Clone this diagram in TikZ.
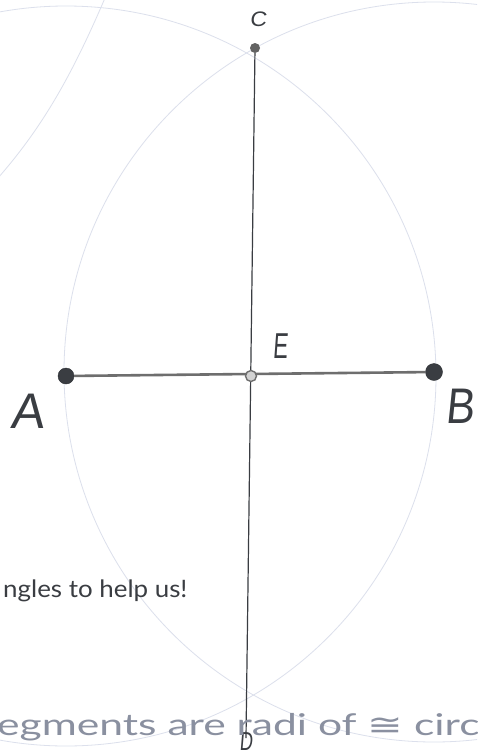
\documentclass[tikz,border=0pt]{standalone}
\usepackage{fontspec}
\setmainfont{Lato}
\newfontfamily\symf{DejaVu Sans}
\newfontfamily\labf{Liberation Sans}[FakeSlant=0.12]
\definecolor{arcc}{HTML}{DCE0EC}
\definecolor{inkc}{HTML}{3A3D42}
\definecolor{segc}{HTML}{6E6E6E}
\definecolor{notec}{HTML}{8A90A0}
\tikzset{
  x=1pt, y=-1pt,
  arcline/.style={draw=arcc, line width=0.8pt},
  dotpt/.style={circle, fill=inkc, draw=inkc!80!black, minimum size=16pt, inner sep=0pt},
  epoint/.style={circle, draw=segc, fill=gray!35, line width=1.4pt, minimum size=11pt, inner sep=0pt},
  cpoint/.style={circle, fill=segc!90!black, minimum size=10pt, inner sep=0pt},
  lab/.style={font=\labf, text=inkc, inner sep=0pt},
}
\begin{document}
\begin{tikzpicture}
\useasboundingbox (0,0) rectangle (477,753);
\clip (0,0) rectangle (477,753);
\fill[white] (0,0) rectangle (477,753);
% faint construction circles
\draw[arcline] (66,376) circle[radius=370];
\draw[arcline] (434,372) circle[radius=370];
\draw[arcline] (105,-2) .. controls (70,80) and (40,130) .. (-2,178);
% points
\coordinate (Dbot) at (246,738);
\node[dotpt] (A) at (66,376) {};
\node[dotpt, minimum size=17pt] (B) at (434,372) {};
\node[cpoint] (C) at (255,48) {};
\draw[inkc, line width=1.2pt] (C) -- (Dbot);
\draw[segc, line width=2.6pt] (A) -- (B);
\node[epoint] (E) at (251,376) {};
% labels
\node[lab, font=\labf\fontsize{21}{21}\selectfont] (Cl) at (258,19) {\scalebox{1.1}[1]{C}};
\node[lab, font=\labf\fontsize{36}{36}\selectfont] (El) at (280,346) {\scalebox{0.62}[1]{E}};
\node[lab, font=\labf\fontsize{50}{50}\selectfont] (Al) at (27,411) {A};
\node[lab, font=\labf\fontsize{50}{50}\selectfont] (Bl) at (460,406) {\scalebox{0.86}[1]{B}};
\node[lab, font=\labf\fontsize{26}{26}\selectfont] (Dl) at (246,742) {\scalebox{0.7}[1]{D}};
% notes
\node[anchor=base west, inner sep=0pt, text=inkc, font=\fontsize{24}{24}\selectfont] (n1) at (3,597) {\scalebox{1.08}[1]{ngles to help us!}};
\node[anchor=base west, inner sep=0pt, text=notec, font=\fontsize{30}{30}\selectfont] (n2) at (-3,735) {\scalebox{1.42}[1]{egments are radi of {\symf ≅} circ}};
\end{tikzpicture}
\end{document}
